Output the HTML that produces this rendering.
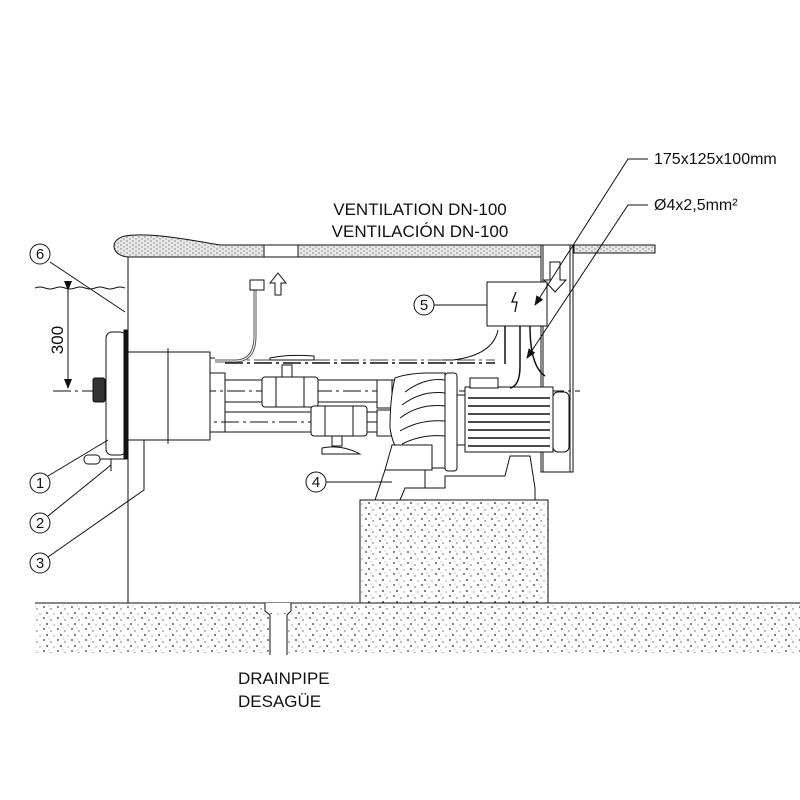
<!DOCTYPE html>
<html><head><style>html,body{margin:0;padding:0;background:#fff}svg{display:block}text{font-family:"Liberation Sans",sans-serif;fill:#111}</style></head>
<body>
<svg width="800" height="800" viewBox="0 0 800 800" xmlns="http://www.w3.org/2000/svg">
<defs>
<pattern id="dots" width="14" height="11" patternUnits="userSpaceOnUse">
<rect width="14" height="11" fill="#fff"/>
<circle cx="2" cy="2" r="0.9" fill="#333"/><circle cx="9" cy="4" r="0.7" fill="#555"/>
<circle cx="5" cy="8" r="0.9" fill="#222"/><circle cx="12" cy="9" r="0.6" fill="#666"/>
<circle cx="7" cy="1" r="0.5" fill="#777"/>
</pattern>
<pattern id="slab" width="6" height="4" patternUnits="userSpaceOnUse">
<rect width="6" height="4" fill="#e8e8e8"/><circle cx="1" cy="1" r="0.7" fill="#777"/><circle cx="4" cy="3" r="0.7" fill="#888"/>
</pattern>
<marker id="ar" markerWidth="10" markerHeight="8" refX="9" refY="4" orient="auto"><path d="M0,0 L10,4 L0,8 z" fill="#111"/></marker>
</defs>
<g stroke="#111" fill="none" stroke-width="1">
<!-- slab -->
<path d="M128,257 C112,256 108,240 125,236 C150,232 190,240 220,245 L264,245 L264,257 Z" fill="url(#slab)"/>
<rect x="298" y="245" width="243" height="12" fill="url(#slab)"/>
<rect x="574" y="245" width="81" height="8" fill="url(#slab)"/>
<line x1="264" y1="245" x2="298" y2="245"/><line x1="264" y1="257" x2="298" y2="257"/>
<!-- walls -->
<line x1="128" y1="257" x2="128" y2="603"/>
<line x1="128" y1="257" x2="541" y2="257"/>
<rect x="541" y="245" width="32" height="227"/>
<line x1="543" y1="245" x2="543" y2="472"/><line x1="570" y1="245" x2="570" y2="472"/>
<path d="M550,262 h10 v18 h6 l-11,12 l-11,-12 h6 z" fill="#fff"/>
<!-- floor -->
<rect x="35" y="603" width="765" height="50" fill="url(#dots)" stroke="none"/>
<line x1="35" y1="603" x2="360" y2="603"/><line x1="548" y1="603" x2="800" y2="603"/>
<rect x="360" y="500" width="188" height="103" fill="url(#dots)"/>
<rect x="265" y="603" width="26" height="10" fill="#fff" stroke="none"/>
<path d="M265,603 v8 l5,4 v38 M291,603 v8 l-4,4 v38"/>
<rect x="270" y="615" width="17" height="40" fill="#fff" stroke="none"/>
<line x1="270" y1="615" x2="270" y2="655"/><line x1="287" y1="615" x2="287" y2="655"/>
<!-- water -->
<path d="M35,288 q5,-2 10,0 t10,0 t10,0 t10,0 t10,0 t10,0 t10,0 t10,0 t10,0"/>
<line x1="68" y1="290" x2="68" y2="388" marker-start="url(#ar)" marker-end="url(#ar)"/>
<!-- centerlines -->
<line x1="53" y1="391" x2="580" y2="391" stroke-dasharray="18,4,3,4"/>
<line x1="192" y1="422" x2="400" y2="422" stroke-dasharray="18,4,3,4"/>
<line x1="225" y1="363" x2="495" y2="363" stroke-dasharray="18,4,3,4" stroke-width="1.5"/>
<line x1="225" y1="360" x2="495" y2="360" stroke-dasharray="18,4,3,4" stroke-width="0.8"/>
<!-- item1 -->
<rect x="106" y="332" width="20" height="123" rx="6" fill="#fff"/>
<rect x="93" y="378" width="12" height="24" rx="2" fill="#333"/>
<rect x="124" y="330" width="4" height="128" fill="#111"/>
<rect x="84" y="455" width="16" height="9" rx="4"/>
<path d="M100,459 h28 M111,459 v12"/>
<!-- item3 -->
<rect x="128" y="352" width="82" height="88" fill="#fff"/>
<line x1="168" y1="348" x2="168" y2="444"/>
<rect x="210" y="373" width="15" height="59"/>
<line x1="210" y1="358" x2="215" y2="358"/>
<!-- pipes -->
<line x1="225" y1="380" x2="400" y2="380"/><line x1="225" y1="402" x2="400" y2="402"/>
<line x1="225" y1="412" x2="400" y2="412"/><line x1="225" y1="432" x2="400" y2="432"/>
<path d="M215,361 h20 q20,0 20,-25 v-46" stroke-width="3" stroke="#555"/>
<path d="M215,361 h20 q20,0 20,-25 v-46" stroke-width="1" stroke="#fff"/>
<rect x="250" y="280" width="14" height="10" fill="#fff"/>
<path d="M275,295 v-12 h-5 l8,-10 l8,10 h-5 v12 z" fill="#fff"/>
<!-- valves -->
<g fill="#fff">
<rect x="262" y="377" width="56" height="30" rx="3"/>
<line x1="276" y1="377" x2="276" y2="407"/><line x1="304" y1="377" x2="304" y2="407"/>
<path d="M282,365 h10 v12 h-10 z M270,358 q18,-4 44,-2 v4 h-44 z"/>
<rect x="311" y="406" width="56" height="30" rx="3"/>
<line x1="325" y1="406" x2="325" y2="436"/><line x1="353" y1="406" x2="353" y2="436"/>
<path d="M332,436 h10 v10 h-10 z M322,448 q20,-4 38,6 h-38 z"/>
<rect x="377" y="380" width="15" height="28"/><rect x="377" y="410" width="15" height="26"/>
</g>
<!-- pump -->
<path d="M395,378 q10,-4 30,-5 h20 v95 h-20 q-30,-5 -35,-40 q0,-30 5,-50 z" fill="#fff"/>
<path d="M405,392 q20,-15 40,-12 M402,405 q20,-15 43,-12 M400,418 q20,-15 45,-12 M400,431 q20,-12 45,-10 M402,444 q20,-10 43,-8"/>
<rect x="445" y="373" width="12" height="98" rx="3" fill="#fff"/>
<rect x="457" y="395" width="8" height="50"/>
<rect x="465" y="387" width="88" height="65" fill="#fff"/>
<g stroke-width="1.5"><line x1="468" y1="398" x2="550" y2="398"/><line x1="468" y1="406" x2="550" y2="406"/><line x1="468" y1="414" x2="550" y2="414"/><line x1="468" y1="422" x2="550" y2="422"/><line x1="468" y1="430" x2="550" y2="430"/><line x1="468" y1="438" x2="550" y2="438"/><line x1="468" y1="446" x2="550" y2="446"/></g>
<rect x="553" y="392" width="16" height="60" rx="5" fill="#fff"/>
<rect x="470" y="378" width="28" height="10" fill="#fff"/>
<!-- base -->
<path d="M385,470 l7,-25 h40 v25 z" fill="#fff"/>
<path d="M375,500 l10,-30 h40 v30 z" fill="#fff"/>
<path d="M400,500 l5,-12 h40 v-12 h60 l5,-20 h20 l5,32 v12 z" fill="#fff"/>
<!-- box 5 -->
<rect x="487" y="282" width="60" height="44" fill="#fff"/>
<path d="M516,292 l-4,10 h5 l-2,10" stroke-width="1.3"/>
<path d="M505,326 v38 M520,326 q0,30 0,40 q0,20 -10,22 M530,326 q0,40 15,50" stroke-width="1.5"/>
<path d="M498,330 q-5,25 -45,30 h-10"/>
<!-- leaders -->
<path d="M648,159 h-20 L535,305" marker-end="url(#ar)"/>
<path d="M648,205 h-20 L527,358" marker-end="url(#ar)"/>
<line x1="50" y1="262" x2="125" y2="312"/>
<line x1="48" y1="476" x2="108" y2="440"/>
<path d="M48,516 L111,465"/>
<path d="M48,557 L144,490 V440"/>
<line x1="326" y1="482" x2="392" y2="482"/>
<line x1="434" y1="305" x2="487" y2="305"/>
<!-- circles -->
<g fill="#fff"><circle cx="40" cy="254" r="10"/><circle cx="40" cy="483" r="10"/><circle cx="40" cy="523" r="10"/><circle cx="40" cy="563" r="10"/><circle cx="316" cy="482" r="10"/><circle cx="424" cy="305" r="10"/></g>
</g>
<g font-size="15" text-anchor="middle">
<text x="40" y="259">6</text><text x="40" y="488">1</text><text x="40" y="528">2</text><text x="40" y="568">3</text><text x="316" y="487">4</text><text x="424" y="310">5</text>
</g>
<text x="66" y="340" font-size="17" text-anchor="middle" transform="rotate(-90 66 340)" dy="-3">300</text>
<text x="420" y="215" font-size="17" text-anchor="middle">VENTILATION DN-100</text>
<text x="420" y="237" font-size="17" text-anchor="middle">VENTILACIÓN DN-100</text>
<text x="654" y="164" font-size="16">175x125x100mm</text>
<text x="654" y="210" font-size="16">Ø4x2,5mm²</text>
<text x="238" y="684" font-size="17">DRAINPIPE</text>
<text x="238" y="707" font-size="17">DESAGÜE</text>
</svg>
</body></html>
